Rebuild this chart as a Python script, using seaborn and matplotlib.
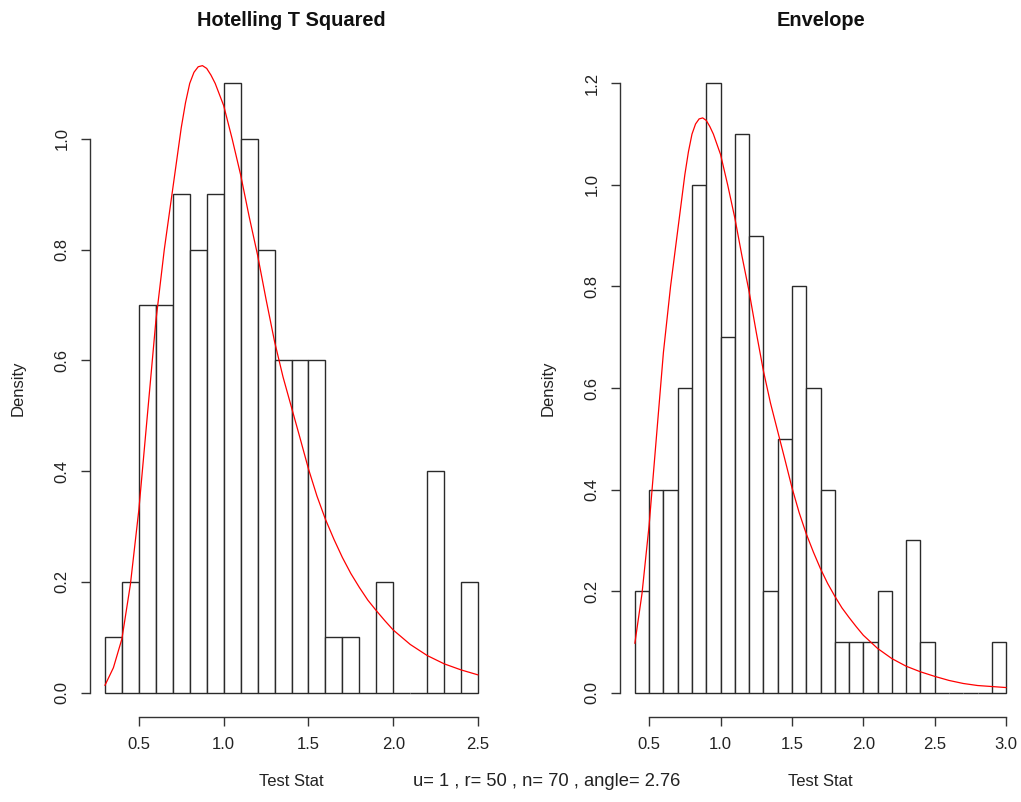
import numpy as np
import pandas as pd
import matplotlib
matplotlib.use("Agg")
import matplotlib.pyplot as plt
import seaborn as sns

# ---------------- data ----------------
# Hotelling T Squared histogram (density per 0.1-wide bin)
hot_edges = [round(0.3 + 0.1 * i, 1) for i in range(23)]          # 0.3 .. 2.5
hot_density = [0.1, 0.2, 0.7, 0.7, 0.9, 0.8, 0.9, 1.1, 1.0, 0.8, 0.6,
               0.6, 0.6, 0.1, 0.1, 0.0, 0.2, 0.0, 0.0, 0.4, 0.0, 0.2]

# Envelope histogram
env_edges = [round(0.4 + 0.1 * i, 1) for i in range(27)]          # 0.4 .. 3.0
env_density = [0.2, 0.4, 0.4, 0.6, 1.0, 1.2, 0.7, 1.1, 0.9, 0.2, 0.5,
               0.8, 0.6, 0.4, 0.1, 0.1, 0.1, 0.2, 0.0, 0.3, 0.1, 0.0,
               0.0, 0.0, 0.0, 0.1]

# reference density curve
curve_x = [0.30, 0.35, 0.40, 0.45, 0.50, 0.55, 0.60, 0.65, 0.70, 0.75,
           0.775, 0.80, 0.825, 0.85, 0.875, 0.90, 0.925, 0.95, 1.00, 1.05,
           1.10, 1.15, 1.20, 1.25, 1.30, 1.35, 1.40, 1.45, 1.50, 1.55,
           1.60, 1.65, 1.70, 1.75, 1.80, 1.85, 1.90, 1.95, 2.00, 2.10,
           2.20, 2.30, 2.40, 2.50, 2.60, 2.70, 2.80, 2.90, 3.00]
curve_y = [0.013, 0.045, 0.097, 0.195, 0.33, 0.50, 0.67, 0.80, 0.91, 1.02,
           1.065, 1.10, 1.12, 1.13, 1.132, 1.127, 1.115, 1.10, 1.06, 1.00,
           0.935, 0.86, 0.79, 0.71, 0.634, 0.57, 0.515, 0.46, 0.404, 0.355,
           0.313, 0.277, 0.244, 0.215, 0.19, 0.167, 0.148, 0.13, 0.113, 0.087,
           0.067, 0.052, 0.041, 0.032, 0.024, 0.018, 0.014, 0.012, 0.010]

titles = ["Hotelling T Squared", "Envelope"]
subtitle = "u= 1 , r= 50 , n= 70 , angle= 2.76"

# ---------------- style ----------------
sns.set_theme(style="white")
plt.rcParams["font.family"] = ["Liberation Sans", "DejaVu Sans"]

W, H = 1021, 802
fig = plt.figure(figsize=(W / 100, H / 100), dpi=100)
fig.patch.set_facecolor("white")

panels = [
    dict(edges=hot_edges, dens=hot_density, rect=(90, 59, 493, 717),
         xlim=(0.212, 2.588), ylim=(-0.044, 1.144),
         xticks=[0.5, 1.0, 1.5, 2.0, 2.5], yticks=[0.0, 0.2, 0.4, 0.6, 0.8, 1.0],
         title=titles[0], xr=(0.3, 2.5)),
    dict(edges=env_edges, dens=env_density, rect=(620, 59, 1021, 717),
         xlim=(0.296, 3.104), ylim=(-0.048, 1.248),
         xticks=[0.5, 1.0, 1.5, 2.0, 2.5, 3.0], yticks=[0.0, 0.2, 0.4, 0.6, 0.8, 1.0, 1.2],
         title=titles[1], xr=(0.4, 3.0)),
]

curve = pd.DataFrame({"x": curve_x, "y": curve_y})

for p in panels:
    x0, y0, x1, y1 = p["rect"]
    ax = fig.add_axes([x0 / W, 1 - y1 / H, (x1 - x0) / W, (y1 - y0) / H])
    ax.set_facecolor("white")
    edges = list(p["edges"])
    centers = [round((a + b) / 2, 3) for a, b in zip(edges[:-1], edges[1:])]
    df = pd.DataFrame({"x": centers, "w": p["dens"]})
    sns.histplot(data=df, x="x", weights="w", bins=edges, stat="count",
                 color="white", edgecolor="#2a2a2a", linewidth=1.0, alpha=1,
                 ax=ax)
    c = curve[(curve.x >= p["xr"][0] - 1e-9) & (curve.x <= p["xr"][1] + 1e-9)]
    sns.lineplot(data=c, x="x", y="y", color="red", linewidth=0.9, ax=ax,
                 sort=False, estimator=None)
    ax.set_xlim(*p["xlim"])
    ax.set_ylim(*p["ylim"])
    ax.set_xticks(p["xticks"])
    ax.set_xticklabels([f"{v:.1f}" for v in p["xticks"]])
    ax.set_yticks(p["yticks"])
    ax.set_yticklabels([f"{v:.1f}" for v in p["yticks"]], rotation=90, va="center")
    ax.set_xlabel("")
    ax.set_ylabel("")
    for s in ["top", "right"]:
        ax.spines[s].set_visible(False)
    for s in ["left", "bottom"]:
        ax.spines[s].set_visible(True)
        ax.spines[s].set_color("#333333")
        ax.spines[s].set_linewidth(1.0)
    ax.spines["bottom"].set_bounds(p["xticks"][0], p["xticks"][-1])
    ax.spines["left"].set_bounds(p["yticks"][0], p["yticks"][-1])
    ax.tick_params(axis="both", which="major", direction="out", length=6.5,
                   width=1.0, color="#333333", labelsize=12, labelcolor="#222222",
                   pad=8, bottom=True, left=True)
    cx = (x0 + x1) / 2 / W
    fig.text(cx, 1 - 20 / H, p["title"], ha="center", va="center",
             fontsize=14.4, fontweight="bold", color="#111111")
    fig.text(cx, 1 - 781 / H, "Test Stat", ha="center", va="center",
             fontsize=12, color="#222222")
    fig.text((x0 - 72) / W, 1 - 388 / H, "Density", ha="center", va="center",
             rotation=90, fontsize=12, color="#222222")

fig.text(547 / W, 1 - 781 / H, subtitle, ha="center", va="center",
         fontsize=13.2, color="#222222")

fig.savefig("out.png", dpi=100, facecolor="white")
